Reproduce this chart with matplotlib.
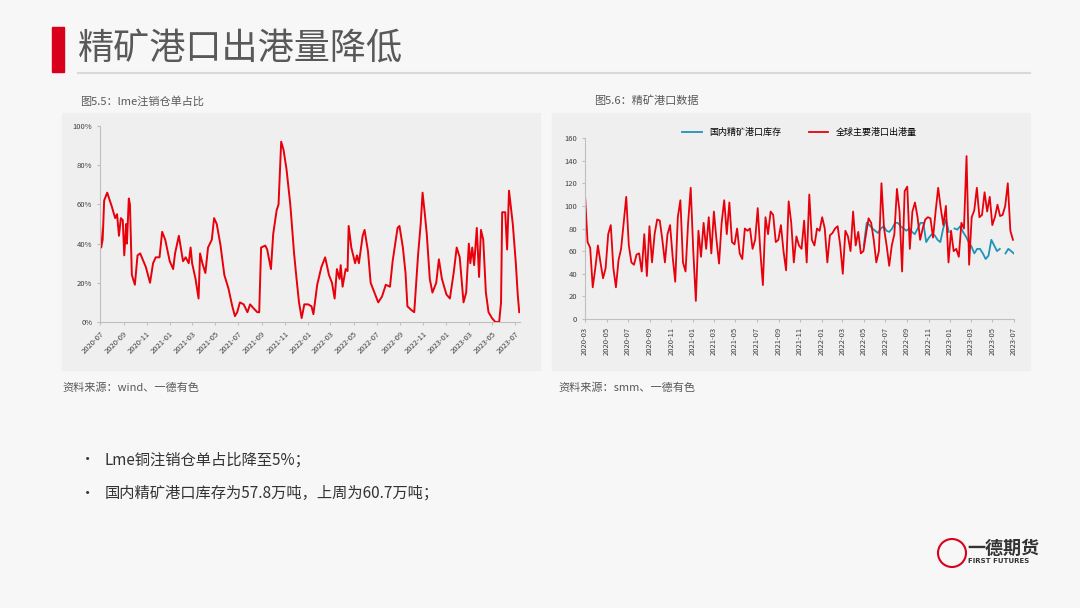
import matplotlib
matplotlib.use("Agg")
import matplotlib.pyplot as plt
import matplotlib.dates as mdates
import numpy as np
import pandas as pd
from matplotlib.patches import Rectangle, Ellipse

plt.rcParams['font.family'] = ['Noto Sans CJK SC', 'DejaVu Sans']

# ---- data ----
lme_dates = ["2020-07-01","2020-07-04","2020-07-08","2020-07-12","2020-07-20","2020-08-01","2020-08-10","2020-08-15","2020-08-20","2020-08-25","2020-08-30","2020-09-03","2020-09-08","2020-09-10","2020-09-15","2020-09-18","2020-09-23","2020-10-01","2020-10-08","2020-10-15","2020-10-30","2020-11-10","2020-11-18","2020-11-25","2020-12-05","2020-12-12","2020-12-20",
"2021-01-01","2021-01-10","2021-01-15","2021-01-25","2021-02-05","2021-02-12","2021-02-20","2021-02-25","2021-03-01","2021-03-10","2021-03-18","2021-03-22","2021-03-28","2021-04-05","2021-04-12","2021-04-22","2021-04-28","2021-05-05","2021-05-15","2021-05-25","2021-06-05","2021-06-15","2021-06-22","2021-06-28","2021-07-05","2021-07-15","2021-07-25","2021-08-01","2021-08-10","2021-08-20","2021-08-25","2021-08-30","2021-09-10","2021-09-15","2021-09-25","2021-10-01","2021-10-10","2021-10-15","2021-10-22","2021-10-28","2021-11-05","2021-11-15","2021-11-25","2021-12-01","2021-12-08","2021-12-15","2021-12-22",
"2022-01-01","2022-01-10","2022-01-15","2022-01-25","2022-02-05","2022-02-15","2022-02-25","2022-03-05","2022-03-12","2022-03-18","2022-03-25","2022-03-28","2022-04-02","2022-04-10","2022-04-15","2022-04-18","2022-04-25","2022-05-05","2022-05-10","2022-05-15","2022-05-25","2022-05-30","2022-06-08","2022-06-15","2022-06-25","2022-07-05","2022-07-15","2022-07-25","2022-08-05","2022-08-12","2022-08-25","2022-08-30","2022-09-08","2022-09-15","2022-09-20","2022-10-01","2022-10-08","2022-10-18","2022-10-25","2022-10-30","2022-11-05","2022-11-10","2022-11-18","2022-11-25","2022-12-05","2022-12-12","2022-12-20",
"2023-01-01","2023-01-10","2023-01-20","2023-01-28","2023-02-05","2023-02-15","2023-02-22","2023-03-01","2023-03-05","2023-03-10","2023-03-15","2023-03-22","2023-03-28","2023-04-02","2023-04-08","2023-04-15","2023-04-22","2023-05-01","2023-05-10","2023-05-20","2023-05-25","2023-05-28","2023-06-05","2023-06-10","2023-06-15","2023-06-25","2023-07-03","2023-07-08","2023-07-12"]
lme_values = [50,38,42,62,66,59,53,55,44,53,52,34,50,40,63,60,24,19,34,35,28,20,30,33,33,46,42,
31,27,35,44,31,33,30,38,30,22,12,35,30,25,38,42,53,50,39,24,17,8,3,5,10,9,5,9,7,5,5,38,39,37,27,45,57,60,92,88,78,60,35,23,10,2,9,
9,8,4,19,28,33,24,20,12,27,22,29,18,27,26,49,38,30,34,30,44,47,36,20,15,10,13,19,18,31,48,49,38,25,8,6,5,34,50,66,55,45,22,15,20,32,22,
14,12,25,38,33,10,15,40,30,38,29,48,23,47,42,15,5,2,0,0,10,56,56,37,67,50,30,14,5]

port_out = [110,68,63,28,45,65,50,36,45,75,83,45,28,52,62,85,108,65,50,48,57,58,42,75,38,82,50,75,88,87,70,50,75,83,55,33,90,105,50,42,85,116,60,16,78,55,85,62,90,58,95,70,49,85,105,75,103,68,66,80,58,53,80,78,80,62,70,98,60,30,90,75,95,92,68,70,83,60,43,104,85,50,73,65,62,87,50,110,70,65,80,78,90,80,50,74,76,80,82,65,40,78,73,60,95,65,77,58,60,75,89,85,70,50,60,120,80,65,47,65,75,115,95,42,113,117,62,95,103,90,70,80,88,90,89,72,95,116,98,83,100,50,78,60,62,55,85,80,144,48,90,96,116,90,92,112,95,108,83,90,101,91,92,100,120,78,70]
port_inv = [65,85,83,80,78,76,80,82,78,77,80,85,85,82,80,78,80,77,75,80,85,85,68,72,75,74,70,68,80,88,77,np.nan,80,79,82,77,73,68,64,58,62,62,58,53,56,70,65,60,62,np.nan,58,62,60,57.8]
out_start, out_end = "2020-03-01", "2023-06-28"
inv_start, inv_end = "2022-05-01", "2023-07-01"

title = "精矿港口出港量降低"
cap1 = "图5.5：lme注销仓单占比"
cap2 = "图5.6：精矿港口数据"
src1 = "资料来源：wind、一德有色"
src2 = "资料来源：smm、一德有色"
bullets = ["Lme铜注销仓单占比降至5%；", "国内精矿港口库存为57.8万吨，上周为60.7万吨；"]

W, H = 1080, 608
fig = plt.figure(figsize=(W/100, H/100), dpi=100, facecolor="#f7f7f7")

def fx(x): return x / W
def fy(y): return 1 - y / H

# header
fig.patches.append(Rectangle((fx(52), fy(72)), 12/W, 45/H, transform=fig.transFigure, color="#d9001b"))
fig.text(fx(78), fy(50), title, fontsize=26, color="#595959", va="center")
fig.add_artist(plt.Line2D([fx(78), fx(1030)], [fy(73), fy(73)], color="#d9d9d9", lw=1.5))

# panels (drawn below the axes)
for x0 in (62, 552):
    fig.patches.append(Rectangle((fx(x0), fy(370)), 478/W, 257/H, transform=fig.transFigure,
                                 color="#efefef", zorder=-5))
fig.text(fx(80), fy(101), cap1, fontsize=8, color="#595959", va="center")
fig.text(fx(594), fy(101), cap2, fontsize=8, color="#595959", va="center")
fig.text(fx(62), fy(388), src1, fontsize=8, color="#595959", va="center")
fig.text(fx(558), fy(388), src2, fontsize=8, color="#595959", va="center")

for i, b in enumerate(bullets):
    y = 460 + i * 33
    fig.text(fx(80), fy(y), "•", fontsize=11, color="#333333", va="center")
    fig.text(fx(105), fy(y), b, fontsize=11, color="#333333", va="center")

# logo
fig.text(fx(967), fy(548), "一德期货", fontsize=13, color="#333333", va="center", fontweight="bold")
fig.text(fx(968), fy(561), "FIRST FUTURES", fontsize=5, color="#333333", va="center", fontweight="bold", family=["DejaVu Sans"])
fig.patches.append(Ellipse((fx(952), fy(553)), 28/W, 28/H, transform=fig.transFigure, fill=False, ec="#d9001b", lw=1.5))

def style(ax):
    ax.set_facecolor("none")
    for s in ("top", "right"):
        ax.spines[s].set_visible(False)
    for s in ("left", "bottom"):
        ax.spines[s].set_color("#bfbfbf")
    ax.tick_params(labelsize=5.5, colors="#404040", length=2, color="#bfbfbf")

# left chart
ax1 = fig.add_axes([fx(100), fy(322), 420/W, 196/H])
style(ax1)
d1 = pd.to_datetime(lme_dates)
ax1.plot(d1, lme_values, color="#e8000b", lw=1.4)
ax1.set_ylim(0, 100)
ax1.set_yticks(range(0, 101, 20))
ax1.set_yticklabels([f"{v}%" for v in range(0, 101, 20)])
ax1.set_xlim(pd.Timestamp("2020-07-01"), pd.Timestamp("2023-07-14"))
ax1.xaxis.set_major_locator(mdates.MonthLocator(bymonth=[1, 3, 5, 7, 9, 11]))
ax1.xaxis.set_major_formatter(mdates.DateFormatter("%Y-%m"))
plt.setp(ax1.get_xticklabels(), rotation=45, ha="right", rotation_mode="anchor")

# right chart
ax2 = fig.add_axes([fx(585), fy(319), 429/W, 181/H])
style(ax2)
d_out = pd.date_range(out_start, out_end, periods=len(port_out))
d_inv = pd.date_range(inv_start, inv_end, periods=len(port_inv))
ax2.plot(d_inv, port_inv, color="#1f93b8", lw=1.3, label="国内精矿港口库存")
ax2.plot(d_out, port_out, color="#e8000b", lw=1.3, label="全球主要港口出港量")
ax2.set_ylim(0, 160)
ax2.set_yticks(range(0, 161, 20))
ax2.set_xlim(pd.Timestamp("2020-03-01"), pd.Timestamp("2023-07-01"))
ax2.xaxis.set_major_locator(mdates.MonthLocator(bymonth=[1, 3, 5, 7, 9, 11]))
ax2.xaxis.set_major_formatter(mdates.DateFormatter("%Y-%m"))
plt.setp(ax2.get_xticklabels(), rotation=90)
ax2.legend(loc="upper center", bbox_to_anchor=(0.5, 1.1), ncol=2, frameon=False, fontsize=6.5, handlelength=2.2, columnspacing=3)

fig.savefig("out.png", dpi=100, facecolor=fig.get_facecolor())
